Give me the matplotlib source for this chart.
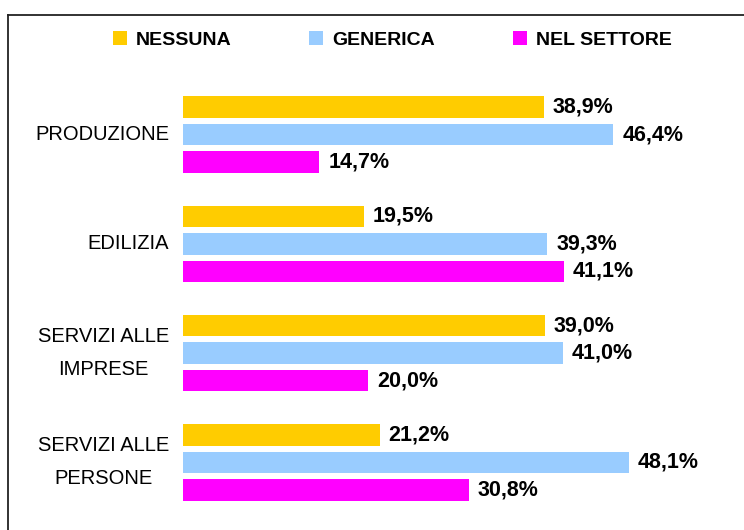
import numpy as np
import matplotlib
matplotlib.use('Agg')
import matplotlib.pyplot as plt
from matplotlib.lines import Line2D

plt.rcParams['font.family'] = ['Liberation Sans', 'DejaVu Sans']

# Data
categories = ['PRODUZIONE', 'EDILIZIA', 'SERVIZI ALLE\nIMPRESE', 'SERVIZI ALLE\nPERSONE']
series_names = ['NESSUNA', 'GENERICA', 'NEL SETTORE']
nessuna = [38.9, 19.5, 39.0, 21.2]
generica = [46.4, 39.3, 41.0, 48.1]
nel_settore = [14.7, 41.1, 20.0, 30.8]
colors = ['#FFCC00', '#99CCFF', '#FF00FF']

W, H = 744, 530
fig = plt.figure(figsize=(W / 100, H / 100), dpi=100)

# axes placed in pixel terms: bars start at x=183, 9.27 px per percent
ax_left, ax_right = 183, 730
ax_top, ax_bot = 80, 517
ax = fig.add_axes([ax_left / W, 1 - ax_bot / H, (ax_right - ax_left) / W, (ax_bot - ax_top) / H])
ax.set_xlim(0, (ax_right - ax_left) / 9.27)
ax.set_ylim(3.5, -0.5)

y = np.arange(len(categories))
offset = 0.252
height = 0.197
all_vals = [nessuna, generica, nel_settore]
bars = []
for k, (vals, name, col) in enumerate(zip(all_vals, series_names, colors)):
    b = ax.barh(y + (k - 1) * offset, vals, height=height, color=col, label=name,
                edgecolor='none')
    bars.append(b)
    for yi, v in zip(y + (k - 1) * offset, vals):
        ax.annotate(f"{v:.1f}%".replace('.', ','), (v, yi), xytext=(6.5, 0),
                    textcoords='offset points', ha='left', va='center',
                    fontsize=15.5, fontweight='bold', color='black')

ax.set_yticks(y)
ax.set_yticklabels(categories, fontsize=14.5, multialignment='center', linespacing=1.95,
                   va='center')
ax.tick_params(axis='y', length=0, pad=10)
ax.set_xticks([])
for s in ax.spines.values():
    s.set_visible(False)

fig.legend(handles=bars, labels=series_names, loc='center left',
           bbox_to_anchor=(113 / W, 1 - 40 / H), ncol=3, frameon=False,
           prop={'weight': 'bold', 'size': 14}, handlelength=0.72, handleheight=0.72,
           handletextpad=0.46, columnspacing=4.0, borderpad=0, borderaxespad=0)

# border (only top and left edges visible)
fig.add_artist(Line2D([8 / W, 1], [1 - 15 / H, 1 - 15 / H], color='#222222', lw=1.3))
fig.add_artist(Line2D([8 / W, 8 / W], [0, 1 - 15 / H], color='#222222', lw=1.3))

fig.savefig('out.png', dpi=100)
